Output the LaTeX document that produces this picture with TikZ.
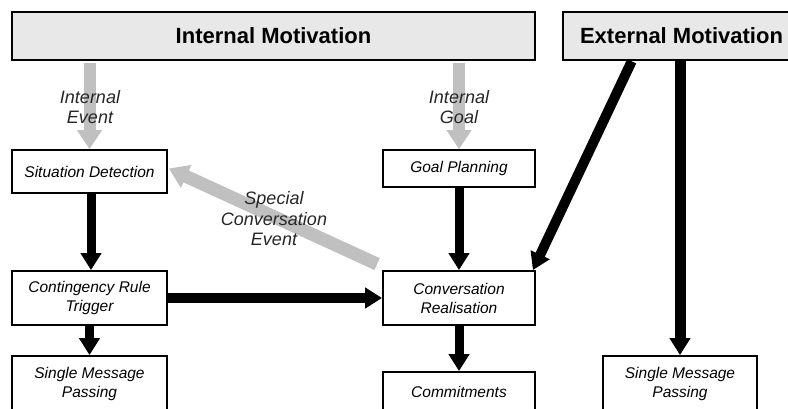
\documentclass[tikz,border=0pt]{standalone}
\usepackage{fontspec}
\setmainfont{Liberation Sans}
\usetikzlibrary{arrows.meta,positioning}
\definecolor{hdrfill}{HTML}{E8E8E8}
\definecolor{arrgray}{HTML}{C0C0C0}
\tikzset{
  hdr/.style={draw=black, line width=2.6pt, fill=hdrfill, minimum height=48pt,
    inner sep=0pt, font=\fontsize{22}{26}\selectfont\bfseries},
  bx/.style={draw=black, line width=1.8pt, fill=white, inner sep=0pt, align=center,
    font=\fontsize{15.5}{19}\selectfont\itshape},
  blk/.style={draw=black, line width=9pt, -{Triangle[width=20pt,length=17pt]}},
  gry/.style={draw=arrgray, line width=12pt, -{Triangle[width=24pt,length=19pt]}},
  lbl/.style={align=center, inner sep=0pt, font=\fontsize{18}{20.5}\selectfont\itshape, text=black!85}
}
\begin{document}
\begin{tikzpicture}[x=1pt,y=1pt]
\useasboundingbox (0,0) rectangle (788,-409);
% header boxes
\node[hdr, minimum width=523pt] (intm) at (273.5,-36) {Internal Motivation};
\node[hdr, minimum width=237pt] (extm) at (681.5,-36) {External Motivation};
% boxes
\node[bx, minimum width=155pt, minimum height=43pt] (sit) at (89.5,-171.5) {Situation Detection};
\node[bx, minimum width=152pt, minimum height=37pt] (goal) at (459,-168.5) {Goal Planning};
\node[bx, minimum width=155pt, minimum height=54pt] (cont) at (89.5,-298) {Contingency Rule\\Trigger};
\node[bx, minimum width=152pt, minimum height=54pt] (conv) at (459,-298) {Conversation\\Realisation};
\node[bx, minimum width=155pt, minimum height=56pt] (smpa) at (89.5,-384) {Single Message\\Passing};
\node[bx, minimum width=152pt, minimum height=40pt] (commit) at (459,-392) {Commitments};
\node[bx, minimum width=154pt, minimum height=56pt] (smpb) at (680,-384) {Single Message\\Passing};
% gray arrows
\draw[gry] ([yshift=-1.5pt]sit.north |- intm.south) -- (sit.north);
\draw[gry] ([yshift=-1.5pt]goal.north |- intm.south) -- (goal.north);
\draw[gry, line width=13pt] ([shift={(-5pt,6pt)}]conv.north west) -- ([shift={(1pt,3pt)}]sit.east);
% labels
\node[lbl] (lie) at (90,-107) {Internal\\Event};
\node[lbl] (lig) at (459,-107) {Internal\\Goal};
\node[lbl] (lsce) at (274,-219) {Special\\Conversation\\Event};
% black arrows
\draw[blk] ([xshift=1.5pt]sit.south) -- ([xshift=1.5pt]cont.north);
\draw[blk] (cont.south) -- (smpa.north);
\draw[blk, line width=10pt] (cont.east) -- (conv.west);
\draw[blk] (goal.south) -- (conv.north);
\draw[blk] (conv.south) -- (commit.north);
\draw[blk, line width=10pt] ([shift={(70pt,0pt)}]extm.south west) -- ([xshift=-3pt]conv.north east);
\draw[blk, line width=11pt] (smpb.north |- extm.south) -- (smpb.north);
\end{tikzpicture}
\end{document}
